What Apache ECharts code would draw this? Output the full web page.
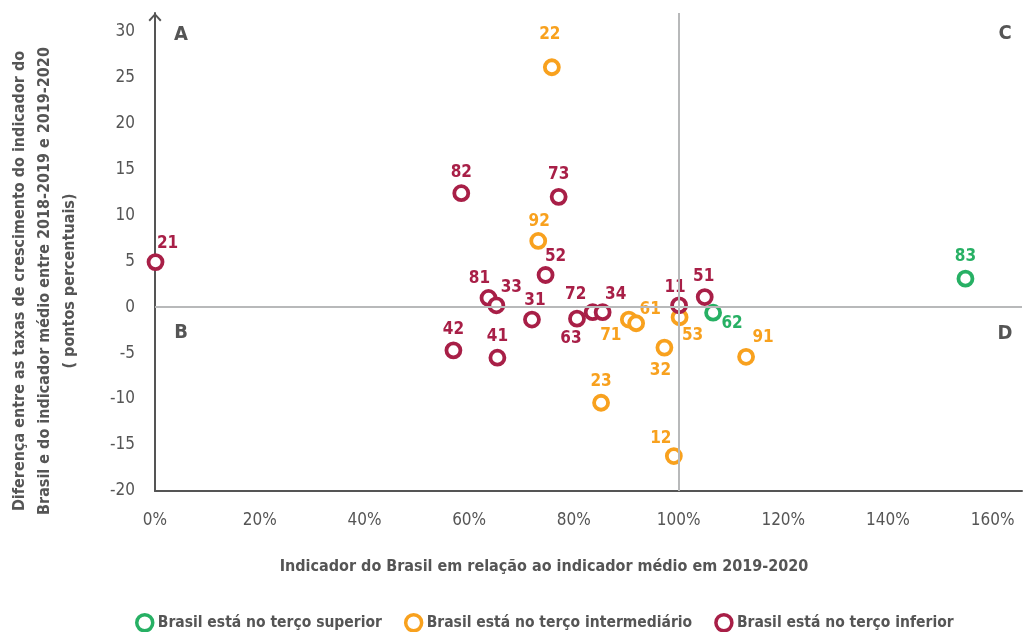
<!DOCTYPE html>
<html><head><meta charset="utf-8">
<script src="https://cdn.jsdelivr.net/npm/echarts@6/dist/echarts.min.js"></script>
<style>html,body{margin:0;padding:0;background:#fff}#c{width:1024px;height:632px}</style>
</head><body><div id="c"></div>
<script>
// ---- data ----
const xTickValues = [0, 20, 40, 60, 80, 100, 120, 140, 160];
const yTickValues = [-20, -15, -10, -5, 0, 5, 10, 15, 20, 25, 30];
const seriesNames = ['Brasil está no terço superior', 'Brasil está no terço intermediário', 'Brasil está no terço inferior'];

const superiorIds = ['83', '62'];
const superiorX = [154.8, 106.6];
const superiorY = [3.1, -0.6];

const intermedIds = ['22', '92', '71', '61', '53', '32', '91', '23', '12'];
const intermedX = [75.8, 73.2, 90.5, 91.9, 100.2, 97.3, 112.9, 85.2, 99.1];
const intermedY = [26.1, 7.2, -1.35, -1.75, -1.1, -4.4, -5.4, -10.4, -16.2];

const inferiorIds = ['21', '82', '73', '52', '81', '33', '31', '63', '72', '34', '11', '51', '42', '41'];
const inferiorX = [0.1, 58.5, 77.1, 74.6, 63.7, 65.2, 72.0, 80.6, 83.6, 85.5, 100.1, 105.0, 57.0, 65.4];
const inferiorY = [4.9, 12.4, 12.0, 3.5, 1.0, 0.2, -1.35, -1.25, -0.55, -0.55, 0.2, 1.1, -4.7, -5.5];

const referenceX = 100;
const referenceY = 0;
const quadrantLetters = ['A', 'B', 'C', 'D'];

// ---- label placement (style, offsets of label relative to its point in px) ----
const labelOffset = {
  '83': [0, -22], '62': [19, 11],
  '22': [-2, -33], '92': [1, -19], '71': [-18, 16], '61': [14, -14], '53': [13, 18],
  '32': [-4, 23], '91': [17, -19], '23': [0, -21], '12': [-13, -17],
  '21': [12, -19], '82': [0, -21], '73': [0, -22], '52': [10, -18], '81': [-9, -19],
  '33': [15, -18], '31': [3, -19], '63': [-6, 20], '72': [-17, -18], '34': [13, -18],
  '11': [-4, -18], '51': [-1, -20], '42': [0, -21], '41': [0, -21]
};

const colors = ['#27b064', '#f8a11e', '#a81f47'];
const FONT = '"DejaVu Sans Condensed", "Liberation Sans Narrow", sans-serif';
const GRAY = '#555555';

function build(ids, xs, ys) {
  return ids.map((id, i) => ({
    value: [xs[i], ys[i]],
    name: id,
    label: { offset: labelOffset[id] || [0, -20] }
  }));
}

function makeSeries(name, data, color) {
  return {
    name: name,
    type: 'scatter',
    data: data,
    symbol: 'circle',
    symbolSize: 14,
    z: 3,
    itemStyle: { color: '#ffffff', borderColor: color, borderWidth: 3.8, opacity: 1 },
    label: {
      show: true,
      position: 'inside',
      formatter: p => p.name,
      color: color,
      fontFamily: FONT,
      fontWeight: 'bold',
      fontSize: 17
    },
    emphasis: { disabled: true }
  };
}

const chart = echarts.init(document.getElementById('c'), null, { renderer: 'canvas' });

const arrowPath = 'path://M0,7 L6.5,0 L13,7 L11.6,8.4 L6.5,2.8 L1.4,8.4 Z';

const option = {
  animation: false,
  textStyle: { fontFamily: FONT },
  grid: { left: 155, right: 2, top: 13, bottom: 141, containLabel: false },
  xAxis: {
    type: 'value',
    min: 0,
    max: 165.6,
    interval: 20,
    axisLine: { show: true, onZero: false, lineStyle: { color: GRAY, width: 2 } },
    axisTick: { show: false },
    splitLine: { show: false },
    axisLabel: {
      margin: 21,
      color: GRAY,
      fontSize: 17,
      fontFamily: FONT,
      formatter: v => (xTickValues.indexOf(Math.round(v * 1000) / 1000) >= 0 ? v + '%' : ''),
      showMaxLabel: false
    }
  },
  yAxis: {
    type: 'value',
    min: -20,
    max: 32,
    interval: 5,
    axisLine: {
      show: true, onZero: false,
      lineStyle: { color: GRAY, width: 2 },
      symbol: ['none', arrowPath],
      symbolSize: [13, 8.4],
      symbolOffset: [0, -4.2]
    },
    axisTick: { show: false },
    splitLine: { show: false },
    axisLabel: {
      margin: 20,
      color: GRAY,
      fontSize: 17,
      fontFamily: FONT,
      formatter: v => (yTickValues.indexOf(v) >= 0 ? String(v) : ''),
      showMaxLabel: false
    }
  },
  legend: {
    data: seriesNames,
    left: 130,
    top: 608,
    width: 880,
    itemWidth: 16,
    itemHeight: 16,
    itemGap: 22,
    icon: 'circle',
    itemStyle: { color: '#ffffff', borderWidth: 3.5 },
    textStyle: { color: GRAY, fontSize: 15.5, fontWeight: 'bold', fontFamily: FONT },
    selectedMode: false
  },
  graphic: [
    {
      type: 'text', x: 45, y: 281, rotation: Math.PI / 2,
      style: {
        text: 'Diferença entre as taxas de crescimento do indicador do\nBrasil e do indicador médio entre 2018-2019 e 2019-2020\n( pontos percentuais)',
        align: 'center', verticalAlign: 'middle', lineHeight: 25,
        fill: GRAY, font: 'bold 16px ' + FONT
      }
    },
    {
      type: 'text', x: 544, y: 567,
      style: {
        text: 'Indicador do Brasil em relação ao indicador médio em 2019-2020',
        align: 'center', verticalAlign: 'middle',
        fill: GRAY, font: 'bold 16px ' + FONT
      }
    },
    { type: 'text', x: 181, y: 35, style: { text: quadrantLetters[0], align: 'center', verticalAlign: 'middle', fill: GRAY, font: 'bold 20px ' + FONT } },
    { type: 'text', x: 181, y: 333, style: { text: quadrantLetters[1], align: 'center', verticalAlign: 'middle', fill: GRAY, font: 'bold 20px ' + FONT } },
    { type: 'text', x: 1005, y: 34, style: { text: quadrantLetters[2], align: 'center', verticalAlign: 'middle', fill: GRAY, font: 'bold 20px ' + FONT } },
    { type: 'text', x: 1005, y: 334, style: { text: quadrantLetters[3], align: 'center', verticalAlign: 'middle', fill: GRAY, font: 'bold 20px ' + FONT } }
  ],
  series: [
    {
      name: 'ref',
      type: 'scatter',
      data: [],
      z: 1,
      markLine: {
        silent: true,
        symbol: ['none', 'none'],
        label: { show: false },
        lineStyle: { color: '#b8b9ba', width: 2, type: 'solid' },
        emphasis: { disabled: true },
        data: [{ xAxis: referenceX }, { yAxis: referenceY }]
      }
    },
    makeSeries(seriesNames[0], build(superiorIds, superiorX, superiorY), colors[0]),
    makeSeries(seriesNames[1], build(intermedIds, intermedX, intermedY), colors[1]),
    makeSeries(seriesNames[2], build(inferiorIds, inferiorX, inferiorY), colors[2])
  ]
};
chart.setOption(option);
</script>
</body></html>
